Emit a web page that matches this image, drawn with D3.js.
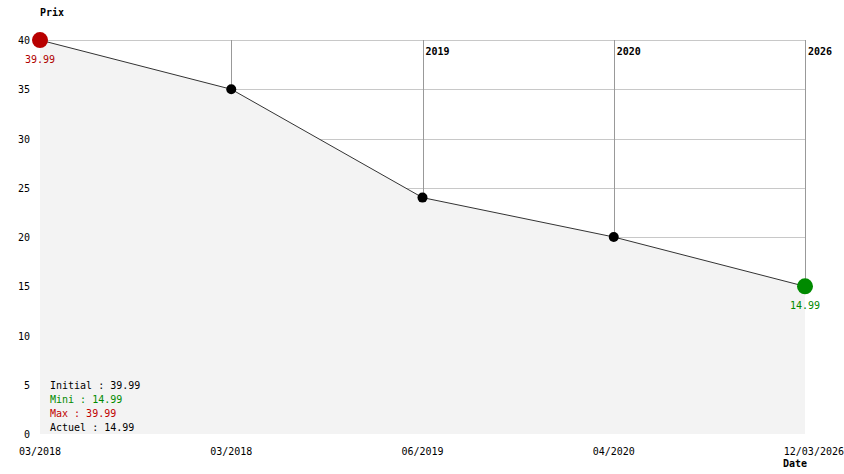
<!DOCTYPE html>
<html>
<head>
<meta charset="utf-8">
<script src="https://cdn.jsdelivr.net/npm/d3@7"></script>
<style>
body { margin: 0; background: #fff; }
svg text { font-family: "DejaVu Sans Mono", monospace; font-size: 10px; }
.bold { font-weight: bold; }
</style>
</head>
<body>
<div class="chart"></div>
<script>
const dates = ["03/2018", "03/2018", "06/2019", "04/2020", "12/03/2026"]
const years = [2018, 2018, 2019, 2020, 2026]
const prices = [39.99, 35, 24, 20, 14.99]
const yTicks = [0, 5, 10, 15, 20, 25, 30, 35, 40]
const legend = [
	{text: "Initial : 39.99", color: "#000"},
	{text: "Mini : 14.99", color: "#008a00"},
	{text: "Max : 39.99", color: "#c00000"},
	{text: "Actuel : 14.99", color: "#000"}
]

const width = 844, height = 474;
const plotLeft = 40, plotRight = 805, plotTop = 40, plotBottom = 434;

const svg = d3.select(".chart").append("svg")
.attr("width", width)
.attr("height", height)

const x = d3.scalePoint()
.domain(d3.range(prices.length))
.range([plotLeft, plotRight])

const y = d3.scaleLinear()
.domain([0, 40])
.range([plotBottom, plotTop])

// grid
svg.append("g").selectAll("line")
.data(yTicks.filter(d => d > 0))
.enter().append("line")
.attr("x1", plotLeft).attr("x2", plotRight)
.attr("y1", d => Math.round(y(d)) + 0.5).attr("y2", d => Math.round(y(d)) + 0.5)
.attr("stroke", "#c8c8c8")

// vertical lines stop at the curve (the fill hides them below)
svg.append("g").selectAll("line")
.data(d3.range(1, prices.length))
.enter().append("line")
.attr("x1", d => Math.round(x(d)) + 0.5).attr("x2", d => Math.round(x(d)) + 0.5)
.attr("y1", plotTop).attr("y2", d => y(prices[d]))
.attr("stroke", "#999")

// year labels where the year changes
svg.append("g").selectAll("text")
.data(d3.range(1, prices.length).filter(i => years[i] != years[i - 1]))
.enter().append("text")
.attr("class", "bold")
.attr("x", d => x(d) + 3)
.attr("y", 55)
.text(d => years[d])

// area under the curve
const area = d3.area()
.x((d, i) => x(i))
.y0(plotBottom)
.y1(d => y(d))

svg.append("path")
.datum(prices)
.attr("d", area)
.attr("fill", "#f3f3f3")

const line = d3.line()
.x((d, i) => x(i))
.y(d => y(d))

svg.append("path")
.datum(prices)
.attr("d", line)
.attr("fill", "none")
.attr("stroke", "#333")
.attr("stroke-width", 1)

// y axis labels
svg.append("g").selectAll("text")
.data(yTicks)
.enter().append("text")
.attr("x", 30)
.attr("y", d => y(d) + 4)
.attr("text-anchor", "end")
.text(d => d)

// x axis labels
svg.append("g").selectAll("text")
.data(dates)
.enter().append("text")
.attr("x", (d, i) => i == dates.length - 1 ? width : x(i))
.attr("y", 455)
.attr("text-anchor", (d, i) => i == dates.length - 1 ? "end" : "middle")
.text(d => d)

svg.append("text").attr("class", "bold").attr("x", 40).attr("y", 16).text("Prix")
svg.append("text").attr("class", "bold").attr("x", 783).attr("y", 467).text("Date")

// points
const maxV = d3.max(prices), minV = d3.min(prices);

svg.append("g").selectAll("circle")
.data(prices)
.enter().append("circle")
.attr("cx", (d, i) => x(i))
.attr("cy", d => y(d))
.attr("r", d => (d == maxV || d == minV) ? 8 : 5)
.attr("fill", d => d == maxV ? "#b80000" : d == minV ? "#008a00" : "#000")

svg.append("g").selectAll("text")
.data(prices.map((d, i) => ({d, i})).filter(p => p.d == maxV || p.d == minV))
.enter().append("text")
.attr("x", p => x(p.i))
.attr("y", p => y(p.d) + 23)
.attr("text-anchor", "middle")
.attr("fill", p => p.d == maxV ? "#b00000" : "#008a00")
.text(p => p.d.toFixed(2))

// legend
svg.append("g").selectAll("text")
.data(legend)
.enter().append("text")
.attr("x", 50)
.attr("y", (d, i) => 389 + i * 14)
.attr("fill", d => d.color)
.text(d => d.text)
</script>
</body>
</html>
